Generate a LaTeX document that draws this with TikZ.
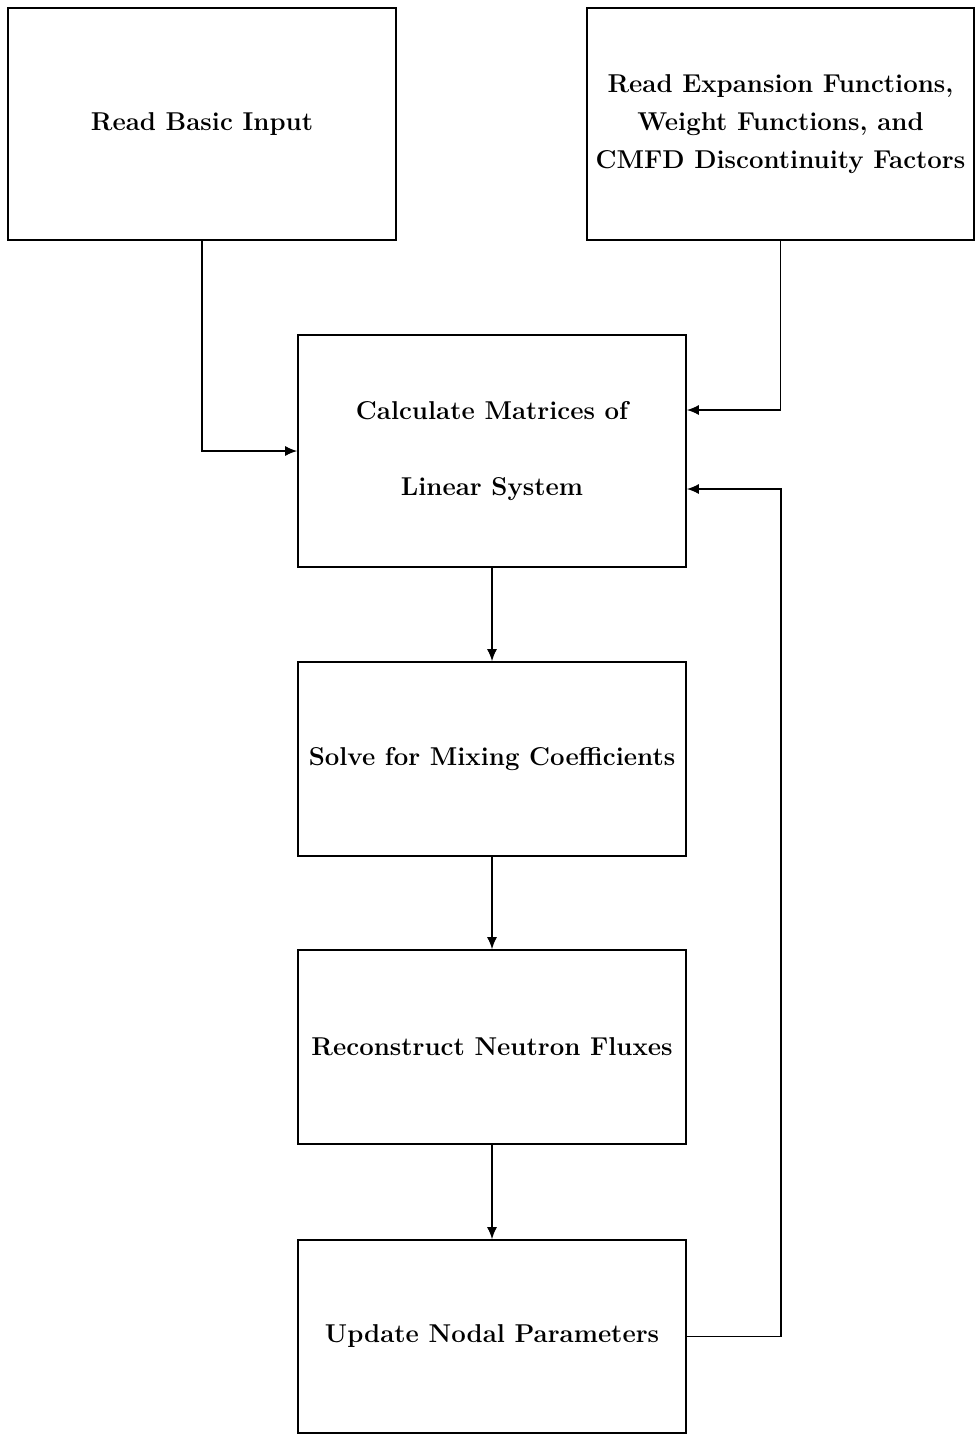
\documentclass[tikz,border=0pt]{standalone}
\usetikzlibrary{arrows.meta,calc}
\tikzset{
  block/.style={draw, line width=1.6pt, minimum width=388pt, inner sep=0pt,
    align=center, font=\fontsize{25.8}{38}\selectfont\bfseries},
  flow/.style={line width=1.6pt, -{Latex[length=12pt,width=10pt]}}
}
\begin{document}
\begin{tikzpicture}[x=1pt,y=-1pt]
\useasboundingbox (0,0) rectangle (977,1437);
\node[block, minimum height=232pt] (basic) at (202,124) {Read Basic Input};
\node[block, minimum height=232pt, minimum width=387pt] (expn) at (780.5,124)
  {Read Expansion Functions,\\Weight Functions, and\\CMFD Discontinuity Factors};
\node[block, minimum height=232pt, font=\fontsize{25.8}{76}\selectfont\bfseries] (calc) at (492,451)
  {Calculate Matrices of\\Linear System};
\node[block, minimum height=194pt] (solve) at (492,759) {Solve for Mixing Coefficients};
\node[block, minimum height=194pt] (recon) at (492,1047) {Reconstruct Neutron Fluxes};
\node[block, minimum height=193pt] (update) at (492,1336.5) {Update Nodal Parameters};

\coordinate (inA) at ($(calc.east)+(0,-41)$);
\coordinate (inB) at ($(calc.east)+(0,38)$);
\coordinate (loop) at ($(inB)+(94,0)$);

\draw[flow] (basic.south) |- (calc.west);
\draw[flow] (expn.south) |- (inA);
\draw[flow] (calc.south) -- (solve.north);
\draw[flow] (solve.south) -- (recon.north);
\draw[flow] (recon.south) -- (update.north);
\draw[flow] (update.east) -| (loop) -- (inB);
\end{tikzpicture}
\end{document}
